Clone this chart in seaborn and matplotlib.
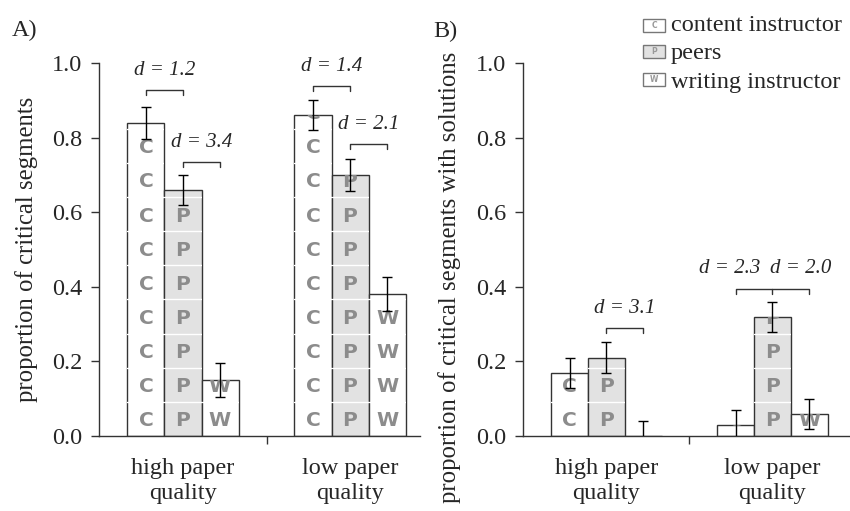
import numpy as np
import pandas as pd
import seaborn as sns
import matplotlib.pyplot as plt
import matplotlib.transforms as mtransforms
from matplotlib.patches import Rectangle

# data
quality = ['high paper\nquality', 'low paper\nquality']
sources = ['content instructor', 'peers', 'writing instructor']
letters = ['C', 'P', 'W']
fills = ['white', '#e2e2e2', 'white']

# A) proportion of critical segments
crit_high = [0.84, 0.66, 0.15]
crit_low = [0.86, 0.70, 0.38]
crit_err_high = [0.043, 0.040, 0.045]
crit_err_low = [0.040, 0.042, 0.045]

# B) proportion of critical segments with solutions
sol_high = [0.17, 0.21, 0.0]
sol_low = [0.03, 0.32, 0.06]
sol_err_high = [0.040, 0.042, 0.040]
sol_err_low = [0.040, 0.040, 0.040]

# effect sizes: (group, bar from, bar to, label, bracket height)
d_a = [(0, 0, 1, 'd = 1.2', 0.928), (0, 1, 2, 'd = 3.4', 0.735),
       (1, 0, 1, 'd = 1.4', 0.938), (1, 1, 2, 'd = 2.1', 0.783)]
d_b = [(0, 1, 2, 'd = 3.1', 0.290)]
d_b_low = ['d = 2.3', 'd = 2.0']
d_b_low_y = 0.394

W, H = 850, 511
TILE = 0.0915
EDGE = '#333333'

sns.set_style('white')
plt.rcParams['font.family'] = ['Liberation Serif', 'DejaVu Serif']
plt.rcParams['font.size'] = 17.5


def make_df(high, low):
    rows = []
    for q, vals in zip(quality, [high, low]):
        for s, v in zip(sources, vals):
            rows.append({'quality': q, 'source': s, 'value': v})
    return pd.DataFrame(rows)


def draw_panel(ax, high, low, err_high, err_low, xmax):
    df = make_df(high, low)
    sns.barplot(data=df, x='quality', y='value', hue='source', hue_order=sources,
                palette=dict(zip(sources, fills)), edgecolor=EDGE, linewidth=1,
                width=0.665, gap=0, errorbar=None, legend=False, ax=ax)
    errs = [err_high, err_low]
    centers = {}
    bar_groups = list(ax.containers)
    for i, cont in enumerate(bar_groups):
        for j, bar in enumerate(cont):
            h = bar.get_height()
            x0 = bar.get_x()
            xc = x0 + bar.get_width() / 2
            centers[(j, i)] = xc
            box = mtransforms.TransformedBbox(bar.get_bbox(), ax.transData)
            n = int(np.ceil(h / TILE)) if h > 0 else 0
            for k in range(n):
                t = ax.text(xc, (k + 0.5) * TILE - 0.02, letters[i], ha='center',
                            va='baseline', fontsize=14.5, color='#8c8c8c',
                            family='DejaVu Sans', weight='bold', zorder=3)
                t.set_clip_box(box)
                t.set_clip_on(True)
                if k > 0:
                    ln, = ax.plot([x0, x0 + bar.get_width()], [k * TILE] * 2,
                                  color='white', lw=1, zorder=3)
                    ln.set_clip_path(bar)
            ax.errorbar(xc, h, yerr=errs[j][i], color='black', lw=1,
                        capsize=3.6, capthick=1, zorder=4)
    ax.set_xlim(-0.503, xmax)
    ax.set_ylim(0, 1.0)
    ax.set_yticks(np.arange(0, 1.01, 0.2))
    ax.set_yticklabels([f'{v:.1f}' for v in np.arange(0, 1.01, 0.2)])
    ax.set_xticks([0.5])
    ax.set_xticklabels([''])
    ax.tick_params(axis='both', direction='out', length=6, width=1, color=EDGE,
                   labelsize=17.5, pad=6, left=True, bottom=True)
    ax.set_xlabel('')
    sns.despine(ax=ax)
    for sp in ['left', 'bottom']:
        ax.spines[sp].set_color(EDGE)
        ax.spines[sp].set_linewidth(1)
    trans = mtransforms.blended_transform_factory(ax.transData, ax.transAxes)
    for g, q in enumerate(quality):
        ax.text(g, -0.058, q, transform=trans, ha='center', va='top',
                fontsize=17.5, linespacing=1.3)
    return centers


def bracket(ax, x0, x1, y, mid=None, tick=0.014):
    xs = [x0, x0, x1, x1]
    ys = [y - tick, y, y, y - tick]
    ax.plot(xs, ys, color=EDGE, lw=1, clip_on=False)
    if mid is not None:
        ax.plot([mid, mid], [y, y - tick], color=EDGE, lw=1, clip_on=False)


fig = plt.figure(figsize=(W / 100, H / 100), dpi=100)
axA = fig.add_axes([99 / W, 75 / H, 321 / W, 373 / H])
axB = fig.add_axes([523 / W, 75 / H, 327 / W, 373 / H])

cA = draw_panel(axA, crit_high, crit_low, crit_err_high, crit_err_low, 1.419)
cB = draw_panel(axB, sol_high, sol_low, sol_err_high, sol_err_low, 1.467)

axA.set_ylabel('proportion of critical segments', fontsize=17.8)
axA.yaxis.set_label_coords(-0.19, 0.5)
axB.set_ylabel('proportion of critical segments with solutions', fontsize=17.8)
axB.yaxis.set_label_coords(-0.19, 0.424)

for g, a, b, lab, y in d_a:
    x0, x1 = cA[(g, a)], cA[(g, b)]
    bracket(axA, x0, x1, y)
    axA.text((x0 + x1) / 2, y + 0.027, lab, ha='center', va='bottom',
             style='italic', fontsize=15)

for g, a, b, lab, y in d_b:
    x0, x1 = cB[(g, a)], cB[(g, b)]
    bracket(axB, x0, x1, y)
    axB.text((x0 + x1) / 2, y + 0.027, lab, ha='center', va='bottom',
             style='italic', fontsize=15)

bracket(axB, cB[(1, 0)], cB[(1, 2)], d_b_low_y, mid=cB[(1, 1)])
axB.text(cB[(1, 1)] - 0.075, d_b_low_y + 0.03, d_b_low[0], ha='right',
         va='bottom', style='italic', fontsize=15)
axB.text(cB[(1, 1)] - 0.015, d_b_low_y + 0.03, d_b_low[1], ha='left',
         va='bottom', style='italic', fontsize=15)

# panel letters
fig.text(12 / W, 1 - 36 / H, 'A)', fontsize=17.5, va='baseline')
fig.text(433 / W, 1 - 37 / H, 'B)', fontsize=17.5, va='baseline')

# legend drawn by hand
box_y = [19, 45, 73]
text_y = [31, 59, 88]
for s, let, fc, by, ty in zip(sources, letters, fills, box_y, text_y):
    fig.patches.append(Rectangle((643 / W, 1 - (by + 13.5) / H), 22 / W, 13.5 / H,
                                 transform=fig.transFigure, facecolor=fc,
                                 edgecolor='#777777', lw=1))
    fig.text(654 / W, 1 - (by + 6.8) / H, let, fontsize=5.5, color='#999999',
             family='DejaVu Sans', weight='bold', ha='center', va='center')
    fig.text(671 / W, 1 - ty / H, s, fontsize=17.5, va='baseline')

fig.savefig('out.png', dpi=100)
